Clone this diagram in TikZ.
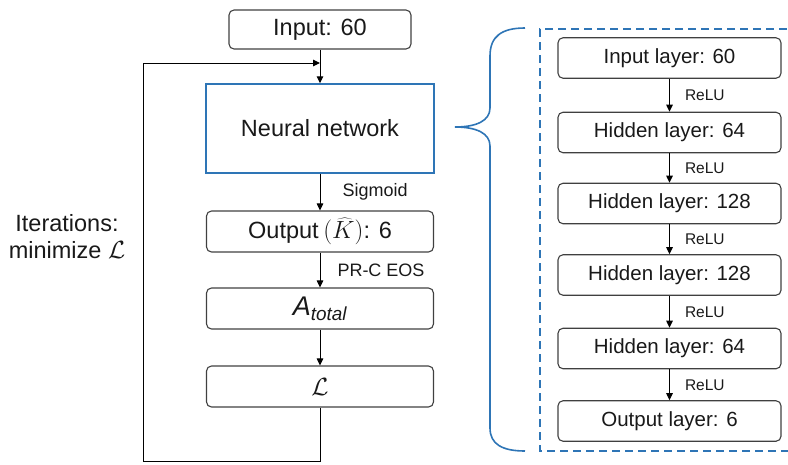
\documentclass[tikz,border=0pt]{standalone}
\usepackage{fontspec}
\setmainfont{Liberation Sans}
\usetikzlibrary{arrows.meta}
\definecolor{nnblue}{RGB}{46,117,182}
\definecolor{boxgray}{RGB}{64,64,64}
\definecolor{txt}{RGB}{25,25,25}
\begin{document}
\begin{tikzpicture}[x=1pt,y=-1pt,
  box/.style={draw=boxgray, line width=1.1pt, rounded corners=5pt,
    minimum width=227pt, minimum height=41pt, inner sep=0pt,
    text=txt, font=\fontsize{23.5}{27}\selectfont},
  nnbox/.style={draw=nnblue, line width=1.5pt, minimum width=228pt,
    minimum height=89pt, inner sep=0pt, text=txt,
    font=\fontsize{23.5}{27}\selectfont},
  rbox/.style={box, minimum width=223pt, minimum height=40.5pt,
    font=\fontsize{20.5}{24}\selectfont},
  arr/.style={draw=black, line width=1pt,
    -{Triangle[length=7pt,width=6.5pt]}},
  lbl/.style={inner sep=0pt, anchor=west, text=txt,
    font=\fontsize{18}{21}\selectfont},
  relu/.style={inner sep=0pt, anchor=west, text=txt, xshift=15pt,
    font=\fontsize{15.5}{18}\selectfont},
  brace/.style={draw=nnblue, line width=1.6pt},
  frame/.style={draw=nnblue, line width=1.6pt, dash pattern=on 8pt off 5pt}
]
\clip (0,0) rectangle (788,464);

% main loop column
\node[box, minimum width=182pt, minimum height=39pt] (inp) at (320,29.5) {Input: 60};
\node[nnbox] (nn) at (320,128.5) {Neural network};
\node[box] (out) at (320,231.5) {Output\kern0.2em$(\widehat{K})$: 6};
\node[box] (atot) at (320,308.5) {\fontsize{27}{30}\selectfont\itshape A\textsubscript{total}};
\node[box] (loss) at (320,386.5) {\fontsize{29}{32}\selectfont$\mathcal{L}$};

\draw[arr] (inp.south) -- (nn.north);
\draw[arr] (nn.south) -- (out.north)
  node[midway, lbl, xshift=22pt] {Sigmoid};
\draw[arr] (out.south) -- (atot.north)
  node[midway, lbl, xshift=17pt] {PR-C EOS};
\draw[arr] (atot.south) -- (loss.north);

% iteration feedback
\coordinate (lb) at (143,461);
\coordinate (lt) at (143,63);
\draw[arr] (loss.south) -- (loss.south |- lb) -- (lb) -- (lt) -- (lt -| inp.south);

\node[align=center, text=txt, font=\fontsize{23.5}{27}\selectfont] (iter) at (67,237)
  {Iterations:\\minimize $\mathcal{L}$};

% brace opening the network detail
\draw[brace] (525,28) .. controls (502,28) and (490,36) .. (490,56)
  -- (490,108) .. controls (490,121) and (476,127) .. (455,127)
  .. controls (476,127) and (490,133) .. (490,146)
  -- (490,428) .. controls (490,444) and (502,451) .. (525,451);

% dashed frame of the network detail
\draw[frame] (800,29) -- (540,29) -- (540,451) -- (800,451);

% layers
\node[rbox] (l1) at (669.5,58)    {Input layer: 60};
\node[rbox] (l2) at (669.5,132.5) {Hidden layer: 64};
\node[rbox] (l3) at (669.5,203.5) {Hidden layer: 128};
\node[rbox] (l4) at (669.5,275)   {Hidden layer: 128};
\node[rbox] (l5) at (669.5,348.5) {Hidden layer: 64};
\node[rbox] (l6) at (669.5,421)   {Output layer: 6};

\draw[arr] (l1.south) -- (l2.north) node[midway, relu] {ReLU};
\draw[arr] (l2.south) -- (l3.north) node[midway, relu] {ReLU};
\draw[arr] (l3.south) -- (l4.north) node[midway, relu] {ReLU};
\draw[arr] (l4.south) -- (l5.north) node[midway, relu] {ReLU};
\draw[arr] (l5.south) -- (l6.north) node[midway, relu] {ReLU};
\end{tikzpicture}
\end{document}
